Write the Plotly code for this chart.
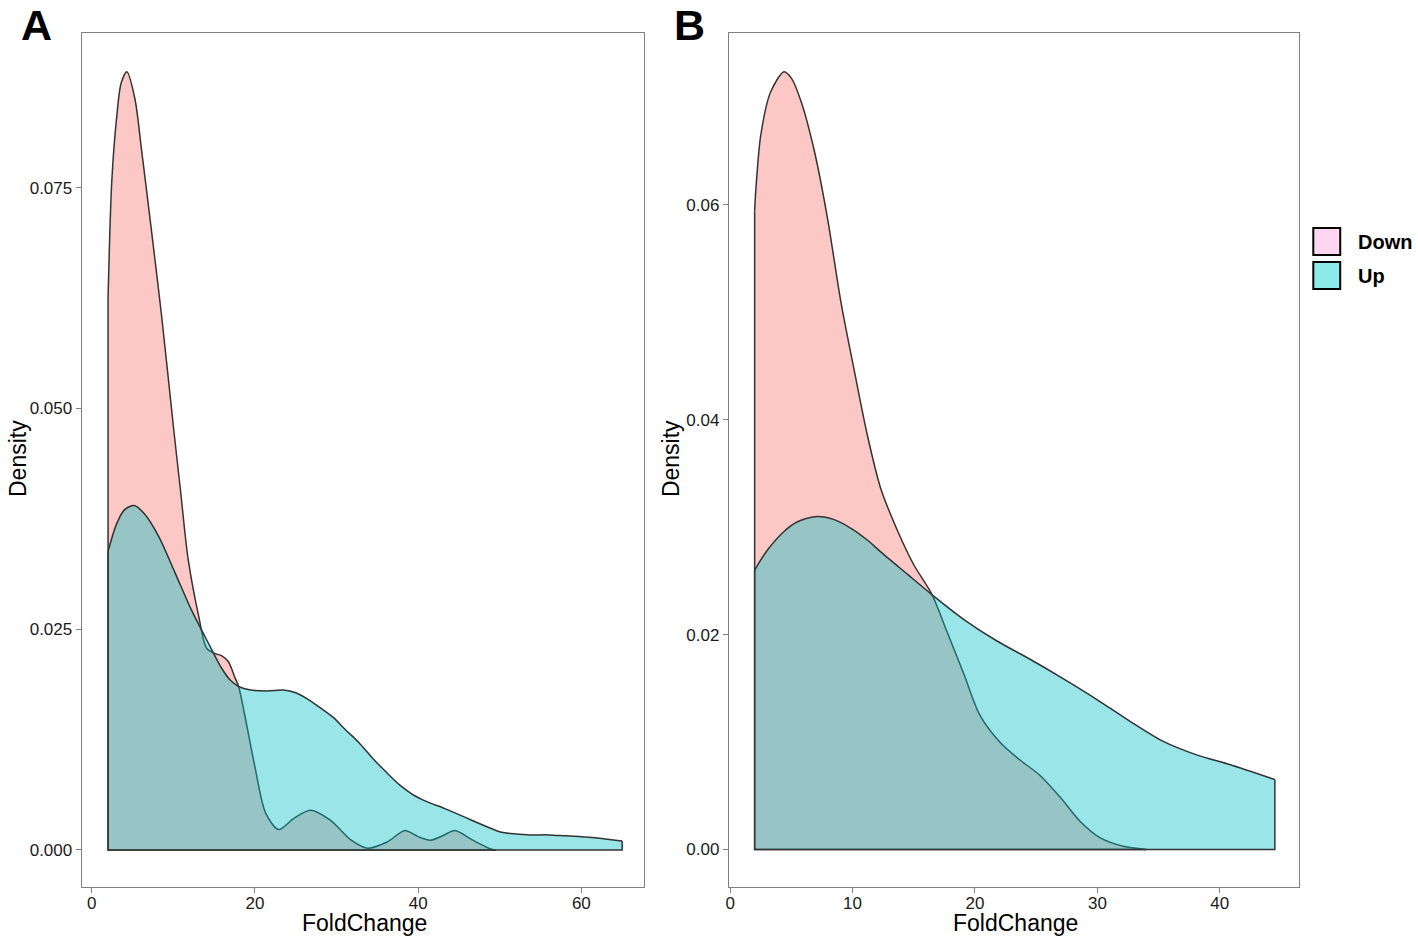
import plotly.graph_objects as go

# ---------------- data ----------------
# Panel A
down_a_x = [2.0, 2.45, 3.06, 3.6, 4.3, 5.3, 6.1, 7.35, 8.57, 10.0, 10.9, 11.8, 13.1, 14.1,
            15.2, 15.9, 16.75, 17.55, 18.0, 18.7, 20.0, 21.3, 22.9, 24.8, 26.8, 29.2,
            31.8, 33.8, 36.2, 38.4, 40.0, 41.5, 43.0, 44.5, 46.7, 48.9, 49.5]
down_a_y = [0.0625, 0.0756, 0.0830, 0.0868, 0.0881, 0.0850, 0.0793, 0.0699, 0.0604, 0.0480,
            0.0405, 0.0330, 0.0265, 0.0228, 0.0222, 0.0220, 0.0213, 0.0195, 0.0185, 0.0155,
            0.0094, 0.0042, 0.0023, 0.0036, 0.0045, 0.0034, 0.0011, 0.0002, 0.0009, 0.0022,
            0.0015, 0.0011, 0.0016, 0.0022, 0.0011, 0.0001, 0.0]

up_a_x = [2.0, 3.0, 4.0, 5.2, 6.5, 8.2, 10.2, 12.2, 14.3, 15.9, 17.0, 18.0, 19.5, 21.5,
          23.5, 25.0, 26.6, 28.0, 29.6, 31.0, 32.7, 34.5, 36.2, 37.8, 39.3, 41.0, 43.2,
          45.0, 46.7, 48.5, 50.2, 52.0, 53.7, 56.0, 58.0, 60.0, 62.5, 65.0]
up_a_y = [0.0338, 0.0368, 0.0385, 0.0390, 0.0380, 0.0355, 0.0314, 0.0272, 0.0234, 0.0206,
          0.0192, 0.0185, 0.0181, 0.0180, 0.0181, 0.0178, 0.0170, 0.0161, 0.0150, 0.0137,
          0.0122, 0.0103, 0.0087, 0.0073, 0.0063, 0.0055, 0.0047, 0.0040, 0.0033, 0.0026,
          0.0020, 0.0018, 0.0017, 0.0017, 0.0016, 0.0015, 0.0013, 0.0010]

# Panel B
down_b_x = [2.0, 2.12, 2.5, 3.3, 4.4, 5.0, 5.8, 6.9, 7.96, 9.04, 10.1, 11.2, 12.3, 13.7,
            15.0, 16.5, 17.7, 19.1, 20.4, 22.1, 23.7, 25.3, 27.0, 28.6, 30.2, 32.1, 34.0]
down_b_y = [0.0595, 0.0618, 0.0665, 0.0705, 0.0724, 0.0718, 0.0696, 0.0649, 0.0587, 0.0510,
            0.0448, 0.0386, 0.0336, 0.0296, 0.0265, 0.0237, 0.0203, 0.0163, 0.0125, 0.0099,
            0.0083, 0.0069, 0.0048, 0.0026, 0.0011, 0.0003, 0.0]

up_b_x = [2.0, 3.0, 4.4, 5.5, 7.1, 8.5, 10.0, 11.2, 12.3, 14.5, 16.5, 19.1, 21.8, 24.5,
          27.2, 29.9, 32.7, 35.3, 38.1, 40.8, 44.5]
up_b_y = [0.0260, 0.0278, 0.0296, 0.0305, 0.0310, 0.0307, 0.0298, 0.0288, 0.0277, 0.0256,
          0.0237, 0.0214, 0.0194, 0.0177, 0.0159, 0.0140, 0.0119, 0.0101, 0.0088, 0.0079,
          0.0065]

groups = ["Down", "Up"]
panel_labels = ["A", "B"]
x_title = "FoldChange"
y_title = "Density"
xticks_a = [0, 20, 40, 60]
yticks_a = [0.000, 0.025, 0.050, 0.075]
xticks_b = [0, 10, 20, 30, 40]
yticks_b = [0.00, 0.02, 0.04, 0.06]

# ---------------- styling ----------------
FILL = {"Down": "rgba(248,118,109,0.4)", "Up": "rgba(0,191,196,0.4)"}
KEY = {"Down": "rgb(254,214,242)", "Up": "rgb(142,234,234)"}
LINE = "#333333"
LW = 1.5
FONT = "Arial, Liberation Sans, sans-serif"

W, H = 1418, 940


def fx(px):
    return px / W


def fy(py):
    return 1 - py / H


fig = go.Figure()

panels = [
    ("x", "y", [(down_a_x, down_a_y), (up_a_x, up_a_y)]),
    ("x2", "y2", [(down_b_x, down_b_y), (up_b_x, up_b_y)]),
]
for xa, ya, series in panels:
    for g, (xs, ys) in zip(groups, series):
        fig.add_trace(go.Scatter(
            x=xs, y=ys, mode="lines", fill="tozeroy", fillcolor=FILL[g],
            line=dict(color=LINE, width=LW, shape="spline", smoothing=0.8),
            name=g, showlegend=False, hoverinfo="skip", xaxis=xa, yaxis=ya))
        fig.add_trace(go.Scatter(
            x=[xs[0], xs[0], xs[-1], xs[-1]], y=[ys[0], 0, 0, ys[-1]], mode="lines",
            line=dict(color=LINE, width=LW), showlegend=False, hoverinfo="skip",
            xaxis=xa, yaxis=ya))

axis_common = dict(showline=True, linecolor="#808080", linewidth=1.3, mirror=True,
                   ticks="outside", ticklen=5, tickcolor="#808080", tickwidth=1.2,
                   showgrid=False, zeroline=False,
                   tickfont=dict(family=FONT, size=17, color="#1a1a1a"))

y_dom = [fy(887), fy(33)]
fig.update_layout(
    width=W, height=H, margin=dict(l=0, r=0, t=0, b=0),
    paper_bgcolor="white", plot_bgcolor="white", showlegend=False,
    xaxis=dict(domain=[fx(78), fx(642)], range=[-1.22, 67.7], tickvals=xticks_a,
               ticktext=[str(v) for v in xticks_a], anchor="y", ticklabelstandoff=-5,
               **axis_common),
    yaxis=dict(domain=y_dom, range=[-0.0042, 0.0925], tickvals=yticks_a,
               ticktext=[f"{v:.3f}" for v in yticks_a], anchor="x", **axis_common),
    xaxis2=dict(domain=[fx(727), fx(1299)], range=[-0.1, 46.5], tickvals=xticks_b,
                ticktext=[str(v) for v in xticks_b], anchor="y2", ticklabelstandoff=-5,
                **axis_common),
    yaxis2=dict(domain=y_dom, range=[-0.0035, 0.0760], tickvals=yticks_b,
                ticktext=[f"{v:.2f}" for v in yticks_b], anchor="x2", **axis_common),
)

ann = []
for lab, xp in zip(panel_labels, [33, 687]):
    ann.append(dict(text=f"<b>{lab}</b>", x=fx(xp), y=1.0, xref="paper", yref="paper",
                    showarrow=False, font=dict(family=FONT, size=43, color="black"),
                    xanchor="center", yanchor="top", borderpad=0))
for xc in [362, 1014]:
    ann.append(dict(text=x_title, x=fx(xc), y=fy(923), xref="paper", yref="paper",
                    showarrow=False, font=dict(family=FONT, size=23, color="black"),
                    xanchor="center", yanchor="middle"))
ann.append(dict(text=y_title, x=0.0, y=fy(459), xref="paper", yref="paper",
                showarrow=False, textangle=-90, borderpad=0,
                font=dict(family=FONT, size=23, color="black"),
                xanchor="left", yanchor="middle"))
ann.append(dict(text=y_title, x=fx(669), y=fy(459), xref="paper", yref="paper",
                showarrow=False, textangle=-90,
                font=dict(family=FONT, size=23, color="black"),
                xanchor="center", yanchor="middle"))
shapes = []
for i, g in enumerate(groups):
    top = 228 + i * 34
    shapes.append(dict(type="rect", xref="paper", yref="paper",
                       x0=fx(1313), x1=fx(1340), y0=fy(top + 27), y1=fy(top),
                       fillcolor=KEY[g], line=dict(color="black", width=2)))
    ann.append(dict(text=f"<b>{g}</b>", x=fx(1356), y=fy(top + 14),
                    xref="paper", yref="paper", showarrow=False,
                    font=dict(family=FONT, size=20, color="black"),
                    xanchor="left", yanchor="middle"))

fig.update_layout(annotations=ann, shapes=shapes)
fig.write_html("out.html", config={"displayModeBar": False},
               post_script="document.body.style.margin='0';document.body.style.overflow='hidden';")
